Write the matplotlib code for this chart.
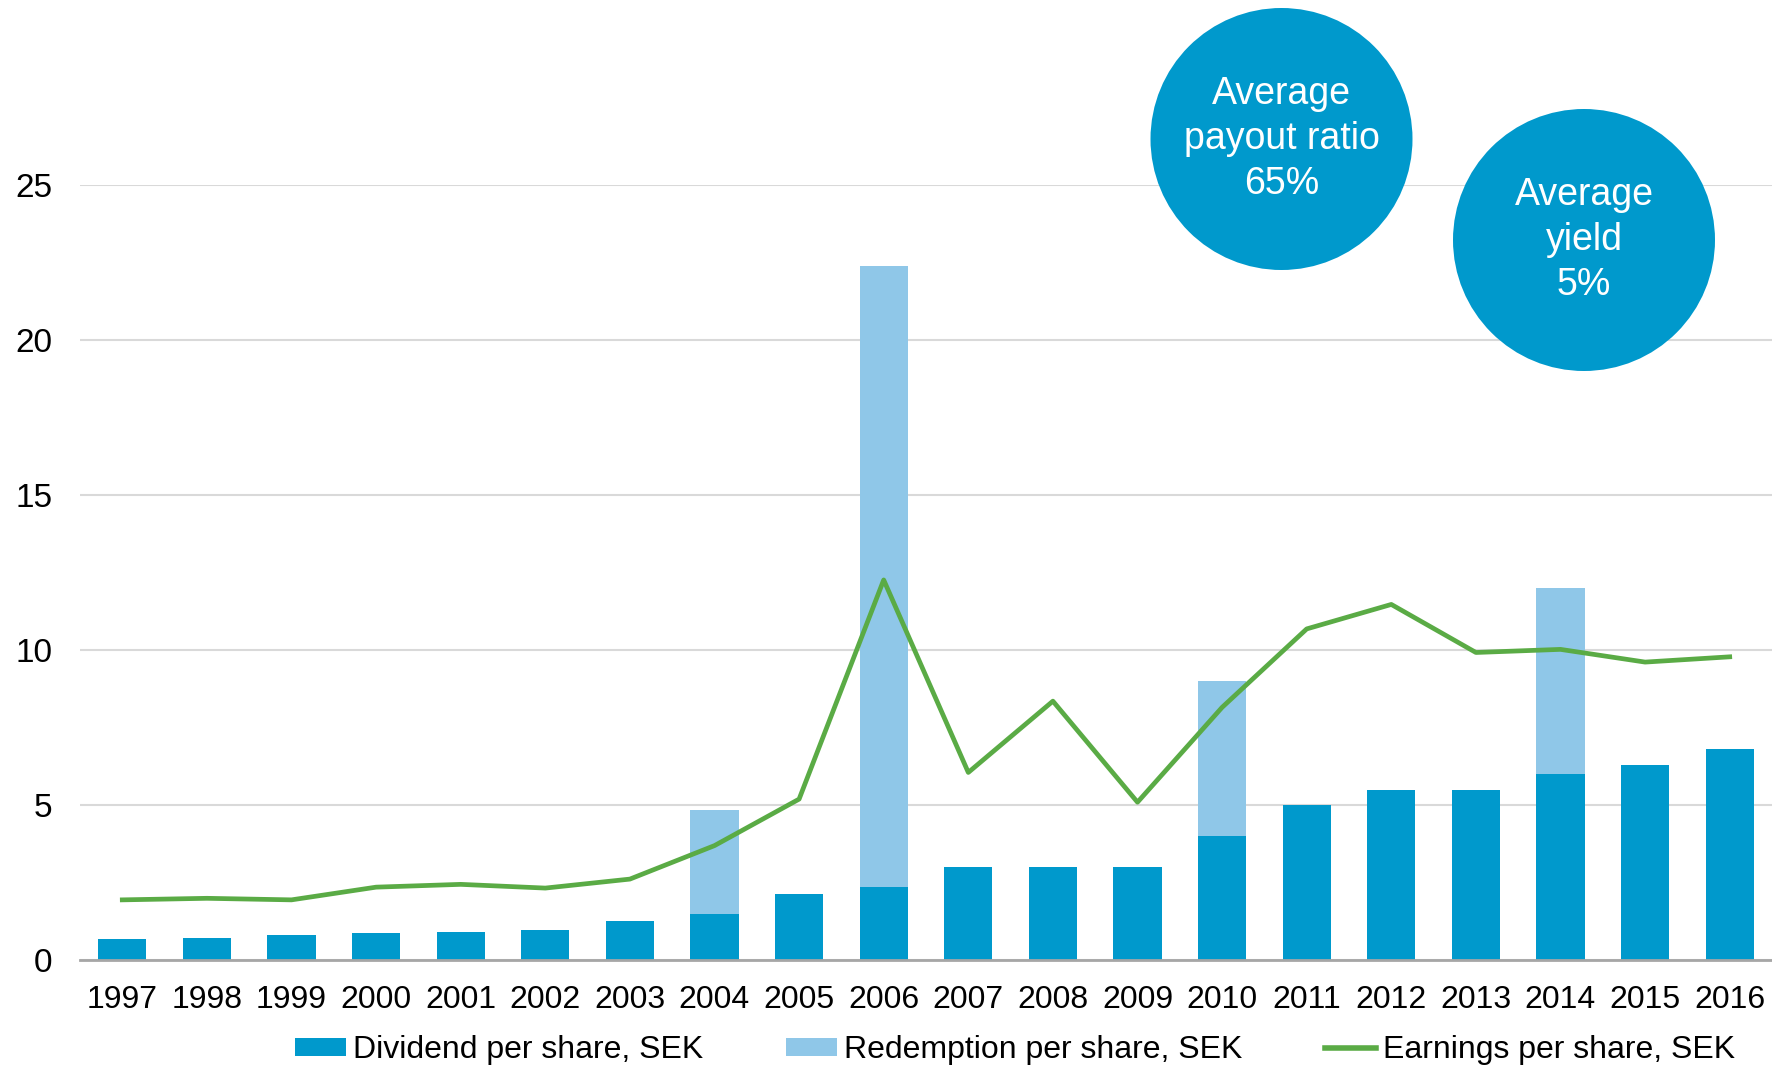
import numpy as np
import matplotlib
matplotlib.use("Agg")
import matplotlib.pyplot as plt
from matplotlib.patches import Ellipse, Patch
from matplotlib.lines import Line2D

plt.rcParams['font.family'] = ['Liberation Sans', 'DejaVu Sans']

years = ['1997', '1998', '1999', '2000', '2001', '2002', '2003', '2004', '2005', '2006',
         '2007', '2008', '2009', '2010', '2011', '2012', '2013', '2014', '2015', '2016']
dividend = [0.68, 0.72, 0.80, 0.87, 0.91, 0.96, 1.25, 1.48, 2.12, 2.36,
            3.0, 3.0, 3.0, 4.0, 5.0, 5.5, 5.5, 6.0, 6.3, 6.8]
redemption = [0, 0, 0, 0, 0, 0, 0, 3.36, 0, 20.04,
              0, 0, 0, 5.0, 0, 0, 0, 6.0, 0, 0]
eps = [1.94, 1.99, 1.94, 2.35, 2.44, 2.32, 2.61, 3.69, 5.19, 12.26,
       6.05, 8.35, 5.09, 8.15, 10.68, 11.47, 9.92, 10.02, 9.61, 9.78]
yticks = [0, 5, 10, 15, 20, 25]

dark_blue = '#0099cc'
light_blue = '#8fc7e8'
green = '#5aab45'
fs = 23

W, H = 1772, 1066
fig = plt.figure(figsize=(W / 100, H / 100), dpi=100)
# axes box in pixels: left 80, right 1772, y=0 at 960, y=25 at 185
ax = fig.add_axes([80 / W, (H - 960) / H, (W - 80) / W, 775 / H])

x = np.arange(len(years))
ax.bar(x, dividend, width=0.57, color=dark_blue, zorder=2)
ax.bar(x, redemption, width=0.57, bottom=dividend, color=light_blue, zorder=2)
ax.plot(x, eps, color=green, lw=3.4, zorder=3)

ax.set_xlim(-0.5, len(years) - 0.5)
ax.set_ylim(0, 25)
ax.set_yticks(yticks)
ax.set_xticks(x)
ax.set_xticklabels(years)
ax.tick_params(axis='both', length=0, labelsize=fs)
ax.tick_params(axis='y', labelsize=24, pad=20)
ax.tick_params(axis='x', pad=18)
ax.grid(axis='y', color='#d9d9d9', lw=1.5, zorder=0)
ax.set_axisbelow(True)
for s in ['top', 'right', 'left']:
    ax.spines[s].set_visible(False)
ax.spines['bottom'].set_color('#a6a6a6')
ax.spines['bottom'].set_linewidth(2)

# bubbles
bubbles = [((1281.5, 139), 'Average\npayout ratio\n65%'),
           ((1584, 240), 'Average\nyield\n5%')]
r = 131
for (cx, cy), label in bubbles:
    fx, fy = cx / W, (H - cy) / H
    fig.patches.append(Ellipse((fx, fy), 2 * r / W, 2 * r / H, transform=fig.transFigure,
                               facecolor=dark_blue, edgecolor='none', zorder=5))
    fig.text(fx, fy, label, color='white', fontsize=27, ha='center', va='center',
             linespacing=1.32, zorder=6)

handles = [Patch(facecolor=dark_blue, edgecolor='none'),
           Patch(facecolor=light_blue, edgecolor='none'),
           Line2D([0], [0], color=green, lw=4)]
labels = ['Dividend per share, SEK', 'Redemption per share, SEK', 'Earnings per share, SEK']
fig.legend(handles, labels, loc='center', bbox_to_anchor=(1015 / W, 16 / H), ncol=3,
           frameon=False, fontsize=fs, handlelength=1.6, handleheight=0.5,
           handletextpad=0.2, columnspacing=2.6, borderpad=0)

fig.savefig('out.png', dpi=100)
